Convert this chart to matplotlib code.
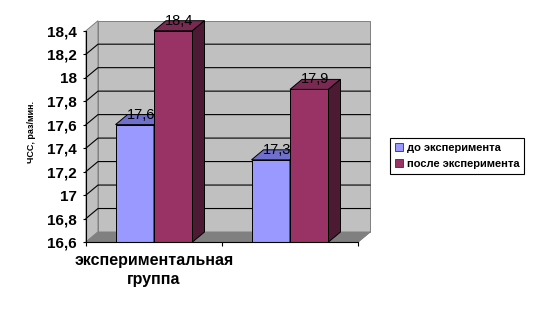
"""
3D-style clustered column chart (heart rate before / after experiment)
"""
import numpy as np
import matplotlib
matplotlib.use("Agg")
import matplotlib.pyplot as plt
from matplotlib.patches import Polygon
from matplotlib.lines import Line2D
from matplotlib.transforms import IdentityTransform

plt.rcParams['font.family'] = ['Liberation Sans', 'DejaVu Sans']

# data
categories = ["экспериментальная\nгруппа", ""]
series_names = ["до эксперимента", "после эксперимента"]
before = [17.6, 17.3]
after = [18.4, 17.9]
yticks = [16.6, 16.8, 17.0, 17.2, 17.4, 17.6, 17.8, 18.0, 18.2, 18.4]

# colours: front, top, side
cmap = {"до эксперимента": ("#9999ff", "#7070cc", "#4d4d80"),
        "после эксперимента": ("#993366", "#7a2952", "#4d1a33")}

DX, DY = 12, 10          # depth offset in pixels
bar_w = 0.283

fig = plt.figure(figsize=(5.37, 3.13), dpi=100)
ax = fig.add_axes([86 / 537, 71 / 313, 272 / 537, 211.3 / 313])
ax.set_autoscale_on(False)
ax.set_xlim(-0.5, len(categories) - 0.5)
ax.set_ylim(yticks[0], yticks[-1])
ax.patch.set_visible(False)
ident = IdentityTransform()


def proj(x, y, z):
    """data point -> display pixels, pushed back by depth z (0..1)"""
    px, py = ax.transData.transform((x, y))
    return (px + z * DX, py + z * DY)


def poly(pts, fc, ec, lw=0.7, z=1):
    p = Polygon(pts, closed=True, facecolor=fc, edgecolor=ec, linewidth=lw,
                transform=ident, clip_on=False, zorder=z)
    ax.add_patch(p)


x0, x1 = ax.get_xlim()
y0, y1 = ax.get_ylim()

# walls and floor
poly([proj(x0, y0, 1), proj(x1, y0, 1), proj(x1, y1, 1), proj(x0, y1, 1)], "#c0c0c0", "#808080", z=0.5)
poly([proj(x0, y0, 0), proj(x0, y0, 1), proj(x0, y1, 1), proj(x0, y1, 0)], "#c0c0c0", "#808080", z=0.5)
poly([proj(x0, y0, 0), proj(x1, y0, 0), proj(x1, y0, 1), proj(x0, y0, 1)], "#808080", "#808080", z=0.6)

# gridlines on back and left wall
for t in yticks[1:-1]:
    a, b, c = proj(x0, t, 0), proj(x0, t, 1), proj(x1, t, 1)
    ax.add_line(Line2D([a[0], b[0], c[0]], [a[1], b[1], c[1]], color="black", lw=0.8,
                       transform=ident, clip_on=False, zorder=0.7))

# bars
for i in range(len(categories)):
    for j, (name, vals) in enumerate(zip(series_names, [before, after])):
        front, top, side = cmap[name]
        l = i - bar_w + j * bar_w
        r = l + bar_w
        v = vals[i]
        poly([proj(l, y0, 0), proj(r, y0, 0), proj(r, v, 0), proj(l, v, 0)], front, "black", z=2 + j)
        poly([proj(l, v, 0), proj(r, v, 0), proj(r, v, 1), proj(l, v, 1)], top, "black", z=2 + j)
        poly([proj(r, y0, 0), proj(r, y0, 1), proj(r, v, 1), proj(r, v, 0)], side, "black", z=2 + j)
        ax.annotate(f"{v:.1f}".replace(".", ","), xy=(l + bar_w / 2, v), xytext=(DX / 2, DY),
                    textcoords="offset pixels", ha="center", va="center",
                    fontsize=10.5, color="black", zorder=10, annotation_clip=False)

# right floor edge
a, b = proj(x1, y0, 0), proj(x1, y0, 1)
ax.add_line(Line2D([a[0], b[0]], [a[1], b[1]], color="#808080", lw=0.8,
                   transform=ident, clip_on=False, zorder=0.7))

# axes
for s in ["top", "right"]:
    ax.spines[s].set_visible(False)
for s in ["left", "bottom"]:
    ax.spines[s].set_color("black")
    ax.spines[s].set_linewidth(0.8)
    ax.spines[s].set_zorder(5)

ax.set_yticks(yticks, [f"{t:g}".replace(".", ",") for t in yticks])
ax.tick_params(axis="y", length=2.5, width=0.8, pad=4, labelsize=11)
for lab in ax.get_yticklabels():
    lab.set_fontweight("bold")

ax.set_xticks(np.arange(len(categories) + 1) - 0.5, [""] * (len(categories) + 1))
ax.tick_params(axis="x", which="major", length=3, width=0.8)
ax.set_xticks(np.arange(len(categories)), categories, minor=True)
ax.tick_params(axis="x", which="minor", length=0, pad=8, labelsize=11.5)
for lab in ax.get_xticklabels(minor=True):
    lab.set_fontweight("bold")
    lab.set_linespacing(1.3)

fig.text(31 / 537, 1 - 132 / 313, "ЧСС, раз/мин.", rotation=90, ha="center", va="center",
         fontsize=6.5, fontweight="bold")

handles = [Line2D([], [], marker="s", linestyle="none", markersize=6,
                  markerfacecolor=cmap[n][0], markeredgecolor="#333333", markeredgewidth=0.6)
           for n in series_names]
leg = fig.legend(handles, series_names, loc="center", bbox_to_anchor=(457 / 537, 1 - 156 / 313),
                 fancybox=False, edgecolor="black", framealpha=1, handlelength=0.8,
                 handletextpad=0.3, labelspacing=0.6, borderpad=0.45,
                 prop={"size": 8, "weight": "bold"})
leg.get_frame().set_linewidth(0.8)

fig.savefig("out.png", dpi=100)
